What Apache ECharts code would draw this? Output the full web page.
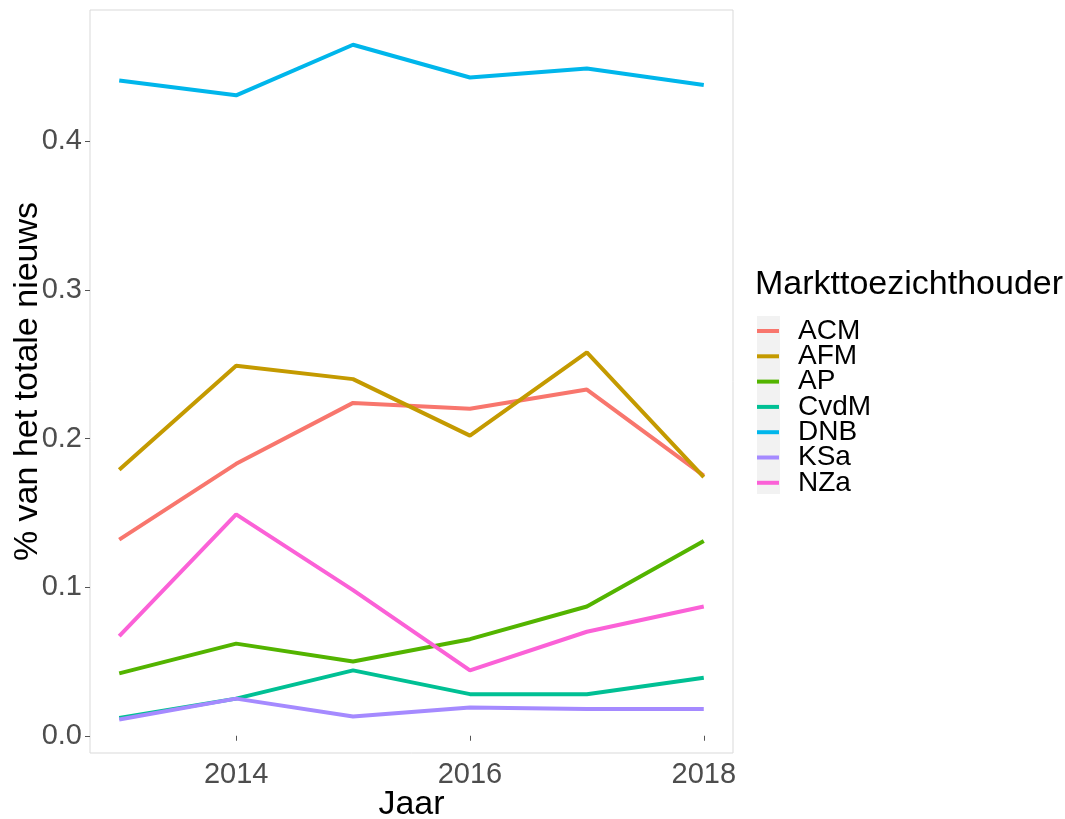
<!DOCTYPE html>
<html>
<head>
<meta charset="utf-8">
<script src="https://cdn.jsdelivr.net/npm/echarts@6/dist/echarts.min.js"></script>
<style>
  html, body { margin: 0; padding: 0; background: #fff; }
  #app { width: 1065px; height: 819px; }
</style>
</head>
<body>
<div id="app"></div>
<script>
const years = [2013, 2014, 2015, 2016, 2017, 2018]
const xTicks = [2014, 2016, 2018]
const yTicks = [0, 0.1, 0.2, 0.3, 0.4]
const names = ['ACM', 'AFM', 'AP', 'CvdM', 'DNB', 'KSa', 'NZa']
const colors = ['#F8766D', '#C49A00', '#53B400', '#00C094', '#00B6EB', '#A58AFF', '#FB61D7']

const acm = [0.132, 0.183, 0.224, 0.220, 0.233, 0.175]
const afm = [0.179, 0.249, 0.240, 0.202, 0.258, 0.174]
const ap = [0.042, 0.062, 0.050, 0.065, 0.087, 0.131]
const cvdm = [0.012, 0.025, 0.044, 0.028, 0.028, 0.039]
const dnb = [0.441, 0.431, 0.465, 0.443, 0.449, 0.438]
const ksa = [0.011, 0.025, 0.013, 0.019, 0.018, 0.018]
const nza = [0.067, 0.149, 0.098, 0.044, 0.070, 0.087]

const values = [acm, afm, ap, cvdm, dnb, ksa, nza]

const font = 'Liberation Sans, Arial, sans-serif'
const echart = echarts.init(document.getElementById('app'))

echart.setOption({
  animation: false,
  textStyle: { fontFamily: font },
  grid: {
    left: 90,
    right: 332,
    top: 10,
    bottom: 66,
    outerBoundsMode: 'none',
    containLabel: false,
    show: true,
    borderColor: '#d9d9d9',
    borderWidth: 1
  },
  title: {
    text: 'Markttoezichthouder',
    left: 755,
    top: 268,
    padding: 0,
    textStyle: {
      color: '#000',
      fontSize: 34,
      fontWeight: 'normal',
      fontFamily: font
    }
  },
  graphic: [
    {
      type: 'rect',
      left: 757,
      top: 316,
      shape: { width: 23, height: 178 },
      style: { fill: '#f2f2f2' },
      z: 0
    }
  ],
  xAxis: {
    type: 'value',
    min: 2012.75,
    max: 2018.25,
    name: 'Jaar',
    nameLocation: 'middle',
    nameGap: 35,
    nameMoveOverlap: false,
    nameTextStyle: { color: '#000', fontSize: 34 },
    axisLine: { show: false },
    axisTick: {
      customValues: xTicks,
      length: 5,
      lineStyle: { color: '#555' }
    },
    axisLabel: {
      customValues: xTicks,
      color: '#4d4d4d',
      fontSize: 29,
      margin: 7,
      formatter(v) {
        return String(v)
      }
    },
    splitLine: { show: false }
  },
  yAxis: {
    type: 'value',
    min: -0.0116,
    max: 0.4884,
    name: '% van het totale nieuws',
    nameLocation: 'middle',
    nameGap: 45,
    nameMoveOverlap: false,
    nameTextStyle: { color: '#000', fontSize: 34 },
    axisLine: { show: false },
    axisTick: {
      customValues: yTicks,
      length: 5,
      lineStyle: { color: '#555' }
    },
    axisLabel: {
      customValues: yTicks,
      color: '#4d4d4d',
      fontSize: 29,
      margin: 8,
      formatter(v) {
        return v.toFixed(1)
      }
    },
    splitLine: { show: false }
  },
  legend: {
    orient: 'vertical',
    left: 757,
    top: 317,
    padding: 0,
    itemWidth: 22,
    itemHeight: 4,
    itemGap: -2.7,
    icon: 'rect',
    data: names,
    textStyle: {
      color: '#000',
      fontSize: 28,
      lineHeight: 25,
      padding: [0, 0, 0, 14]
    }
  },
  series: names.map((n, i) => ({
    type: 'line',
    name: n,
    data: years.map((y, j) => [y, values[i][j]]),
    showSymbol: false,
    symbol: 'none',
    color: colors[i],
    lineStyle: { width: 4, color: colors[i] },
    z: 2
  }))
})
</script>
</body>
</html>
